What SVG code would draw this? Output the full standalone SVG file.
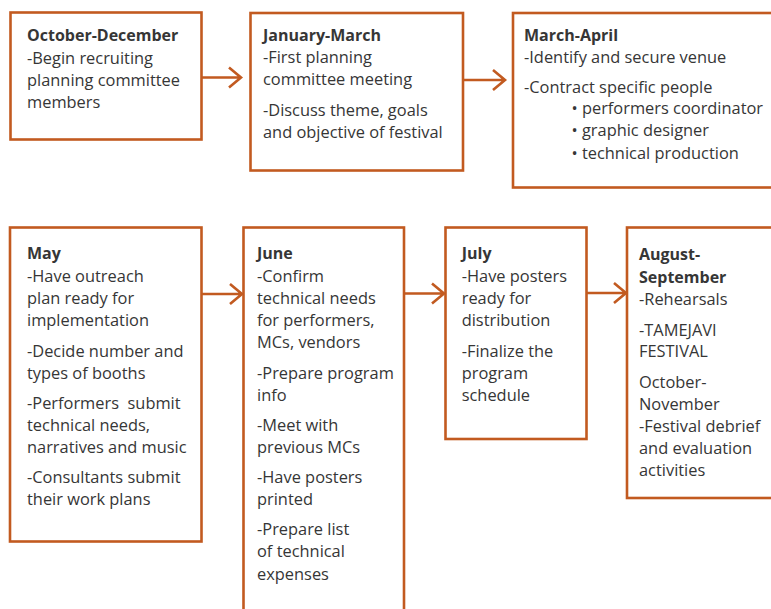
<svg xmlns="http://www.w3.org/2000/svg" width="771" height="609" viewBox="0 0 771 609">
<style>
.box{fill:#fff;stroke:#c25a20;stroke-width:2.6}
.conn{fill:none;stroke:#c25a20;stroke-width:2.6}
text{font-family:"Open Sans","Noto Sans","Liberation Sans",sans-serif;font-size:16.4px;fill:#363636}
.h{font-weight:bold;font-size:16px}
.pre{white-space:pre}
</style>
<rect width="771" height="609" fill="#fff"/>
<g id="connectors">
<path class="conn" d="M201.5,77.5H241M229,67.5L241,77.5L229,87.5"/>
<path class="conn" d="M463,80H505M493,70L505,80L493,90"/>
<path class="conn" d="M201.5,294H242M230,284L242,294L230,304"/>
<path class="conn" d="M404,293.5H444M432,283.5L444,293.5L432,303.5"/>
<path class="conn" d="M587,293H626M614,283L626,293L614,303"/>
</g>
<g id="oct-dec">
<rect class="box" x="10.5" y="12.5" width="191" height="127"/>
<text x="27" y="41" class="h">October-December</text>
<text x="27" y="63.5">-Begin recruiting</text>
<text x="27" y="85.5">planning committee</text>
<text x="27" y="107.5">members</text>
</g>
<g id="jan-mar">
<rect class="box" x="250.5" y="13" width="212.5" height="157.5"/>
<text x="263" y="41" class="h">January-March</text>
<text x="263" y="63">-First planning</text>
<text x="263" y="85">committee meeting</text>
<text x="263" y="115.5">-Discuss theme, goals</text>
<text x="263" y="137.5">and objective of festival</text>
</g>
<g id="mar-apr">
<rect class="box" x="513" y="13" width="280" height="174.5"/>
<text x="524" y="40.5" class="h">March-April</text>
<text x="524" y="63">-Identify and secure venue</text>
<text x="524" y="92.5">-Contract specific people</text>
<text x="571.5" y="114">• performers coordinator</text>
<text x="571.5" y="136.3">• graphic designer</text>
<text x="571.5" y="158.5">• technical production</text>
</g>
<g id="may">
<rect class="box" x="10" y="227.5" width="191.5" height="314"/>
<text x="27" y="259.3" class="h">May</text>
<text x="27" y="281.7">-Have outreach</text>
<text x="27" y="303.7">plan ready for</text>
<text x="27" y="326">implementation</text>
<text x="27" y="356.7">-Decide number and</text>
<text x="27" y="378.7">types of booths</text>
<text x="27" y="408.5" class="pre">-Performers  submit</text>
<text x="27" y="430.7">technical needs,</text>
<text x="27" y="452.5">narratives and music</text>
<text x="27" y="483.3">-Consultants submit</text>
<text x="27" y="505.3">their work plans</text>
</g>
<g id="june">
<rect class="box" x="243.5" y="227.5" width="160.5" height="400"/>
<text x="257" y="259.3" class="h">June</text>
<text x="257" y="281.7">-Confirm</text>
<text x="257" y="303.7">technical needs</text>
<text x="257" y="326">for performers,</text>
<text x="257" y="348.3">MCs, vendors</text>
<text x="257" y="378.5">-Prepare program</text>
<text x="257" y="400.5">info</text>
<text x="257" y="430.7">-Meet with</text>
<text x="257" y="452.5">previous MCs</text>
<text x="257" y="482.8">-Have posters</text>
<text x="257" y="505">printed</text>
<text x="257" y="535">-Prepare list</text>
<text x="257" y="557.3">of technical</text>
<text x="257" y="579.7">expenses</text>
</g>
<g id="july">
<rect class="box" x="445.5" y="227.5" width="141" height="211.5"/>
<text x="461.7" y="259.3" class="h">July</text>
<text x="461.7" y="281.7">-Have posters</text>
<text x="461.7" y="303.7">ready for</text>
<text x="461.7" y="326">distribution</text>
<text x="461.7" y="356.7">-Finalize the</text>
<text x="461.7" y="378.7">program</text>
<text x="461.7" y="400.7">schedule</text>
</g>
<g id="aug-sep">
<rect class="box" x="627" y="227.5" width="160" height="270.5"/>
<text x="639" y="260" class="h">August-</text>
<text x="639" y="282.5" class="h">September</text>
<text x="639" y="305">-Rehearsals</text>
<text x="639" y="335.5">-TAMEJAVI</text>
<text x="639" y="357">FESTIVAL</text>
<text x="639" y="388">October-</text>
<text x="639" y="409.5">November</text>
<text x="639" y="431.7">-Festival debrief</text>
<text x="639" y="453.5">and evaluation</text>
<text x="639" y="476">activities</text>
</g>
</svg>
